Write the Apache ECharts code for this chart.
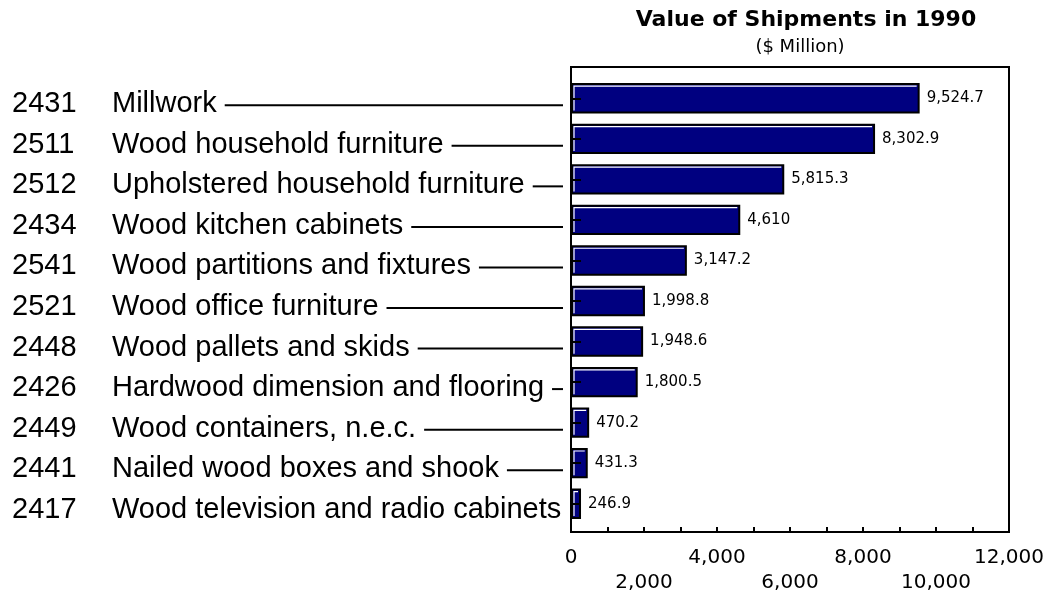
<!DOCTYPE html>
<html>
<head>
<meta charset="utf-8">
<script src="https://cdn.jsdelivr.net/npm/echarts@6/dist/echarts.min.js"></script>
<style>html,body{margin:0;padding:0;background:#fff;}#c{width:1050px;height:596px;}</style>
</head>
<body>
<div id="c"></div>
<script>
const codes = ['2431','2511','2512','2434','2541','2521','2448','2426','2449','2441','2417'];
const names = ['Millwork','Wood household furniture','Upholstered household furniture','Wood kitchen cabinets','Wood partitions and fixtures','Wood office furniture','Wood pallets and skids','Hardwood dimension and flooring','Wood containers, n.e.c.','Nailed wood boxes and shook','Wood television and radio cabinets'];
const values = [9524.7, 8302.9, 5815.3, 4610, 3147.2, 1998.8, 1948.6, 1800.5, 470.2, 431.3, 246.9];
const titleText = 'Value of Shipments in 1990';
const subtitleText = '($ Million)';
const xMin = 0, xMax = 12000, xStep = 1000, xLabelStep = 2000;

const BIG_FONT = '"Liberation Sans", Arial, sans-serif';
const SMALL_FONT = '"DejaVu Sans", sans-serif';
const bigSize = 29;
const codeWidth = 100;
const labelLeft = 12;

const chart = echarts.init(document.getElementById('c'), null, {renderer: 'canvas'});
const ctx = document.createElement('canvas').getContext('2d');
ctx.font = bigSize + 'px ' + BIG_FONT;
const nameWidths = names.map(n => ctx.measureText(n).width);

const gridLeft = 571, gridRight = 41;

const option = {
  backgroundColor: '#fff',
  animation: false,
  graphic: [
    {type: 'text', x: 806, y: 20, style: {text: titleText, font: 'bold 22px ' + SMALL_FONT, fill: '#000', align: 'center', verticalAlign: 'middle'}},
    {type: 'text', x: 800, y: 47, style: {text: subtitleText, font: '18px ' + SMALL_FONT, fill: '#000', align: 'center', verticalAlign: 'middle'}}
  ],
  grid: [
    {left: gridLeft, right: gridRight, top: 67, bottom: 64, show: true, borderColor: '#000', borderWidth: 2, backgroundColor: 'transparent'},
    {left: gridLeft, right: gridRight, top: 78, bottom: 72}
  ],
  xAxis: [
    {
      type: 'value', gridIndex: 0, min: xMin, max: xMax, interval: xStep,
      axisLine: {show: true, lineStyle: {color: '#000', width: 2}},
      axisTick: {show: true, inside: true, length: 5, lineStyle: {color: '#000', width: 2}},
      splitLine: {show: false},
      axisLabel: {
        color: '#000', fontFamily: SMALL_FONT, fontSize: 20, lineHeight: 25, margin: 13,
        showMinLabel: true, showMaxLabel: true,
        formatter: function (v) {
          if (v % xLabelStep !== 0) return '';
          const s = v.toLocaleString('en-US');
          return (v % (2 * xLabelStep) === 0) ? s : '\n' + s;
        }
      }
    },
    {type: 'value', gridIndex: 1, min: xMin, max: xMax, show: false}
  ],
  yAxis: [
    {type: 'value', gridIndex: 0, show: false, min: 0, max: 1},
    {
      type: 'category', gridIndex: 1, data: names, inverse: true, z: 10,
      axisLine: {show: true, lineStyle: {color: '#000', width: 2}},
      axisTick: {show: true, inside: true, length: 10, alignWithLabel: true, lineStyle: {color: '#000', width: 2}},
      axisLabel: {
        align: 'left', margin: gridLeft - labelLeft, color: '#000',
        padding: [12, 0, 0, 0],
        formatter: function (v, i) { return '{code|' + codes[i] + '}{name|' + v + '}'; },
        rich: {
          code: {width: codeWidth, fontSize: bigSize, fontFamily: BIG_FONT, color: '#000'},
          name: {fontSize: bigSize, fontFamily: BIG_FONT, color: '#000'}
        }
      }
    }
  ],
  series: [
    {
      type: 'custom', xAxisIndex: 1, yAxisIndex: 1, clip: false, z: 3,
      data: names.map((n, i) => [0, i]),
      encode: {x: 0, y: 1},
      renderItem: function (params, api) {
        const i = api.value(1);
        const p = api.coord([0, i]);
        const y = p[1] + 7;
        const x0 = labelLeft + codeWidth + nameWidths[i] + 8;
        const x1 = p[0] - 8;
        if (x1 - x0 < 4) return null;
        return {type: 'line', shape: {x1: x0, y1: y, x2: x1, y2: y}, style: {stroke: '#000', lineWidth: 2}};
      }
    },
    {
      type: 'custom', xAxisIndex: 1, yAxisIndex: 1, clip: false, z: 2,
      data: values.map((v, i) => [v, i]),
      encode: {x: 0, y: 1},
      renderItem: function (params, api) {
        const v = api.value(0), i = api.value(1);
        const s = api.coord([0, i]);
        const e = api.coord([v, i]);
        const h = api.size([0, 1])[1] * 0.7;
        const x0 = s[0] + 1, w = e[0] - s[0] - 1, yt = s[1] - h / 2;
        return {
          type: 'group',
          children: [
            {type: 'rect', shape: {x: x0, y: yt, width: w, height: h}, style: {fill: '#000080', stroke: '#000', lineWidth: 2}},
            {type: 'polyline', shape: {points: [[x0 + 2, yt + h - 2], [x0 + 2, yt + 2], [x0 + w - 2, yt + 2]]}, style: {stroke: '#fff', lineWidth: 1.2, fill: null}},
            {type: 'text', x: e[0] + 8, y: s[1], style: {text: v.toLocaleString('en-US'), font: '15px ' + SMALL_FONT, fill: '#000', align: 'left', verticalAlign: 'middle'}}
          ]
        };
      }
    }
  ]
};
chart.setOption(option);
</script>
</body>
</html>
